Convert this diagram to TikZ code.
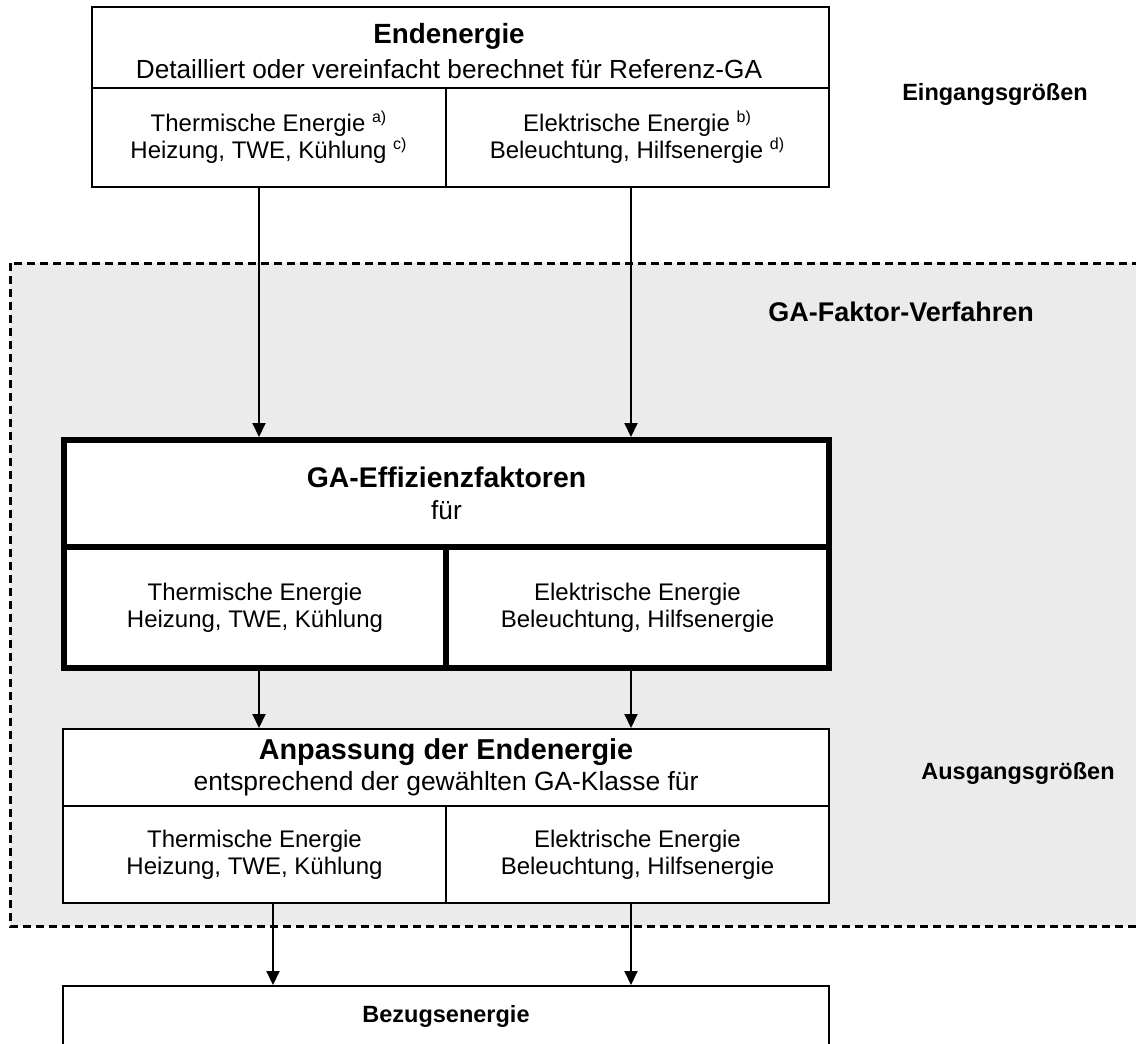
\documentclass[tikz,border=0pt]{standalone}
\usepackage{fontspec}
\setmainfont{Liberation Sans}
\usetikzlibrary{arrows.meta}
\definecolor{gagray}{RGB}{235,235,235}

\begin{document}
\begin{tikzpicture}[x=0.5pt,y=-0.5pt,
  box/.style={draw,line width=1pt,fill=white,align=center,inner sep=0pt},
  gabox/.style={box,line width=3pt},
  flow/.style={-{Triangle[length=7pt,width=6.5pt]},line width=1pt},
  cell/.style={font=\fontsize{12}{13.5}\selectfont},
  side/.style={font=\fontsize{11.75}{14}\selectfont\bfseries}]
  \useasboundingbox (0,0) rectangle (1136,1044);
  \clip (0,0) rectangle (1136,1044);
  % grey area of the GA-Faktor-Verfahren
  \draw[fill=gagray,line width=1.5pt,dash pattern=on 4pt off 2.5pt] (10,263) rectangle (1160,926);

  % Endenergie
  \node[box,minimum width=368.5pt,minimum height=40.5pt] (endhead) at (460.5,47.5) {};
  \node[align=center,inner sep=0pt,font=\fontsize{13.1}{17.5}\selectfont] (endtitle) at (449,51)
    {{\fontsize{13.9}{17.5}\selectfont\bfseries Endenergie}\\Detailliert oder vereinfacht berechnet für Referenz-GA};
  \node[box,cell,minimum width=177pt,minimum height=49.5pt] (endtherm) at (269,137.5)
    {Thermische Energie \textsuperscript{a)}\\Heizung, TWE, Kühlung \textsuperscript{c)}};
  \node[box,cell,minimum width=191.5pt,minimum height=49.5pt] (endelek) at (637.5,137.5)
    {Elektrische Energie \textsuperscript{b)}\\Beleuchtung, Hilfsenergie \textsuperscript{d)}};

  % GA-Effizienzfaktoren
  \node[gabox,minimum width=382.5pt,minimum height=53.5pt,font=\fontsize{13.1}{16}\selectfont] (gahead) at (446.5,493.5)
    {{\fontsize{14.2}{16}\selectfont\bfseries GA-Effizienzfaktoren}\\für};
  \node[gabox,cell,minimum width=191pt,minimum height=60.5pt] (gatherm) at (255,607.5)
    {Thermische Energie\\Heizung, TWE, Kühlung};
  \node[gabox,cell,minimum width=191.5pt,minimum height=60.5pt] (gaelek) at (637.5,607.5)
    {Elektrische Energie\\Beleuchtung, Hilfsenergie};

  % Anpassung
  \node[box,minimum width=383pt,minimum height=38.5pt,font=\fontsize{13.2}{15.5}\selectfont] (anphead) at (446,767.5)
    {{\fontsize{14.4}{15.5}\selectfont\bfseries Anpassung der Endenergie}\\entsprechend der gewählten GA-Klasse für};
  \node[box,cell,minimum width=191.5pt,minimum height=48.5pt] (anptherm) at (254.5,854.5)
    {Thermische Energie\\Heizung, TWE, Kühlung};
  \node[box,cell,minimum width=191.5pt,minimum height=48.5pt] (anpelek) at (637.5,854.5)
    {Elektrische Energie\\Beleuchtung, Hilfsenergie};

  \node[box,anchor=north,minimum width=383pt,text height=18pt,text depth=60pt,
    font=\fontsize{11.75}{14}\selectfont\bfseries] (bezug) at (446,985) {Bezugsenergie};

  % side labels
  \node[side] (eingang) at (995,94) {Eingangsgrößen};
  \node[font=\fontsize{13.5}{16}\selectfont\bfseries,anchor=east] (verfahren) at (1041,312) {GA-Faktor-Verfahren};
  \node[side] (ausgang) at (1018,773) {Ausgangsgrößen};

  % arrows
  \draw[flow] ([xshift=-5pt]endtherm.south) -- ([xshift=-5pt]endtherm.south |- gahead.north);
  \draw[flow] ([xshift=-3.25pt]endelek.south) -- ([xshift=-3.25pt]endelek.south |- gahead.north);
  \draw[flow] ([xshift=2pt]gatherm.south) -- ([xshift=2pt]gatherm.south |- anphead.north);
  \draw[flow] ([xshift=-3.25pt]gaelek.south) -- ([xshift=-3.25pt]gaelek.south |- anphead.north);
  \draw[flow] ([xshift=9.25pt]anptherm.south) -- ([xshift=9.25pt]anptherm.south |- bezug.north);
  \draw[flow] ([xshift=-3.25pt]anpelek.south) -- ([xshift=-3.25pt]anpelek.south |- bezug.north);
\end{tikzpicture}
\end{document}
